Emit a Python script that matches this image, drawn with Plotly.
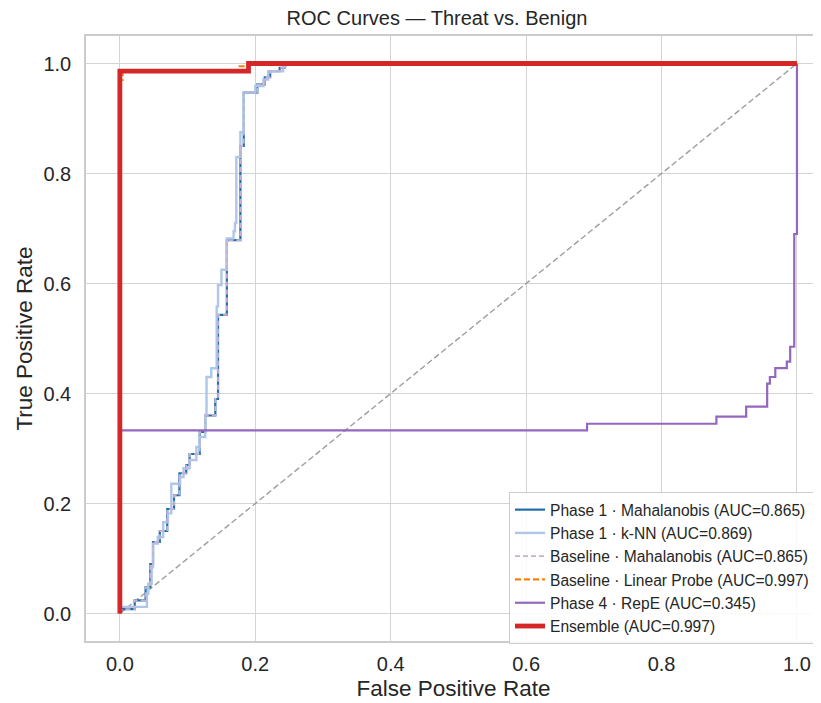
import plotly.graph_objects as go

# ---------------- data ----------------
maha_fpr = [0.0, 0.004, 0.022, 0.022, 0.038, 0.038, 0.045, 0.045, 0.049, 0.049, 0.059, 0.059,
            0.070, 0.070, 0.080, 0.080, 0.088, 0.088, 0.098, 0.098, 0.103, 0.103, 0.118, 0.118,
            0.126, 0.126, 0.141, 0.141, 0.145, 0.145, 0.158, 0.158, 0.178, 0.178, 0.183, 0.183,
            0.203, 0.203, 0.214, 0.214, 0.222, 0.222, 0.236, 0.236, 0.243, 0.243, 1.0]
maha_tpr = [0.0, 0.008, 0.008, 0.024, 0.024, 0.048, 0.048, 0.090, 0.090, 0.130, 0.130, 0.150,
            0.150, 0.190, 0.190, 0.215, 0.215, 0.255, 0.255, 0.270, 0.270, 0.290, 0.290, 0.330,
            0.330, 0.360, 0.360, 0.390, 0.390, 0.543, 0.543, 0.679, 0.679, 0.850, 0.850, 0.947,
            0.947, 0.962, 0.962, 0.975, 0.975, 0.986, 0.986, 0.992, 0.992, 1.0, 1.0]

knn_fpr = [0.0, 0.0, 0.040, 0.040, 0.042, 0.042, 0.047, 0.047, 0.049, 0.049, 0.056, 0.056,
           0.064, 0.064, 0.071, 0.071, 0.076, 0.076, 0.089, 0.089, 0.094, 0.094, 0.103, 0.103,
           0.113, 0.113, 0.118, 0.118, 0.126, 0.126, 0.128, 0.128, 0.135, 0.135, 0.143, 0.143,
           0.145, 0.145, 0.150, 0.150, 0.158, 0.158, 0.168, 0.168, 0.170, 0.170, 0.172, 0.172,
           0.178, 0.178, 0.183, 0.183, 0.200, 0.200, 0.212, 0.212, 0.219, 0.219, 0.241, 0.241,
           0.245, 0.245, 1.0]
knn_tpr = [0.0, 0.012, 0.012, 0.036, 0.036, 0.054, 0.054, 0.084, 0.084, 0.127, 0.127, 0.139,
           0.139, 0.166, 0.166, 0.182, 0.182, 0.236, 0.236, 0.248, 0.248, 0.264, 0.264, 0.279,
           0.279, 0.303, 0.303, 0.321, 0.321, 0.361, 0.361, 0.430, 0.430, 0.446, 0.446, 0.558,
           0.558, 0.597, 0.597, 0.625, 0.625, 0.682, 0.682, 0.695, 0.695, 0.710, 0.710, 0.830,
           0.830, 0.875, 0.875, 0.947, 0.947, 0.959, 0.959, 0.971, 0.971, 0.986, 0.986, 0.995,
           0.995, 1.0, 1.0]

probe_fpr = [0.0, 0.0, 0.004, 0.004, 0.177, 0.177, 0.190, 0.190, 1.0]
probe_tpr = [0.0, 0.970, 0.970, 0.986, 0.986, 0.995, 0.995, 1.0, 1.0]

repe_fpr = [0.0, 0.0, 0.690, 0.690, 0.881, 0.881, 0.925, 0.925, 0.956, 0.956, 0.960, 0.960,
            0.968, 0.968, 0.985, 0.985, 0.990, 0.990, 0.996, 0.996, 1.0, 1.0]
repe_tpr = [0.0, 0.333, 0.333, 0.345, 0.345, 0.358, 0.358, 0.376, 0.376, 0.418, 0.418, 0.430,
            0.430, 0.446, 0.446, 0.458, 0.458, 0.485, 0.485, 0.690, 0.690, 1.0]

ens_fpr = [0.0, 0.0, 0.190, 0.190, 1.0]
ens_tpr = [0.0, 0.986, 0.986, 1.0, 1.0]

chance = [0.0, 1.0]

labels = ["Phase 1 · Mahalanobis (AUC=0.865)",
          "Phase 1 · k-NN (AUC=0.869)",
          "Baseline · Mahalanobis (AUC=0.865)",
          "Baseline · Linear Probe (AUC=0.997)",
          "Phase 4 · RepE (AUC=0.345)",
          "Ensemble (AUC=0.997)"]
tick_vals = [0.0, 0.2, 0.4, 0.6, 0.8, 1.0]
tick_text = ["0.0", "0.2", "0.4", "0.6", "0.8", "1.0"]

FONT = "Liberation Sans, Arial, sans-serif"
TXT = "#262626"

fig = go.Figure()
fig.add_trace(go.Scatter(x=chance, y=chance, mode="lines", showlegend=False,
                         line=dict(color="#9e9e9e", width=1.4, dash="6px,3px"), hoverinfo="skip"))
fig.add_trace(go.Scatter(x=maha_fpr, y=maha_tpr, mode="lines", name=labels[0],
                         line=dict(color="#1f6fa8", width=2.2)))
fig.add_trace(go.Scatter(x=knn_fpr, y=knn_tpr, mode="lines", name=labels[1],
                         line=dict(color="#aec7e8", width=2.4)))
fig.add_trace(go.Scatter(x=maha_fpr, y=maha_tpr, mode="lines", name=labels[2],
                         line=dict(color="#c5b0d5", width=1.8, dash="5px,3px")))
fig.add_trace(go.Scatter(x=probe_fpr, y=probe_tpr, mode="lines", name=labels[3],
                         line=dict(color="#ff7f0e", width=2.2, dash="6px,3px")))
fig.add_trace(go.Scatter(x=repe_fpr, y=repe_tpr, mode="lines", name=labels[4],
                         line=dict(color="#9467bd", width=2.2)))
fig.add_trace(go.Scatter(x=ens_fpr, y=ens_tpr, mode="lines", name=labels[5],
                         line=dict(color="#d62728", width=4.8)))

axis_common = dict(showgrid=True, gridcolor="#d4d4d4", gridwidth=1.4, zeroline=False,
                   showline=True, linecolor="#cccccc", linewidth=1.6,
                   tickfont=dict(family=FONT, size=20, color=TXT),
                   tickvals=tick_vals, ticktext=tick_text, ticks="")

# The page body adds an 8px offset; figure coordinates are the reference's minus 8px.
fig.update_xaxes(range=[-0.05, 1.0355], mirror=True, ticklabelstandoff=4,
                 title=dict(text="False Positive Rate", font=dict(family=FONT, size=22.5, color=TXT),
                            standoff=6), **axis_common)
fig.update_yaxes(range=[-0.05, 1.05], mirror=False, ticklabelstandoff=9,
                 title=dict(text="True Positive Rate", font=dict(family=FONT, size=22.5, color=TXT),
                            standoff=5), **axis_common)

fig.update_layout(
    width=813, height=695,
    margin=dict(l=78, r=0, t=28, b=62),
    paper_bgcolor="white", plot_bgcolor="white",
    title=dict(text="ROC Curves — Threat vs. Benign", x=429 / 813, xanchor="center",
               xref="container", y=1 - 10 / 695, yanchor="middle", yref="container",
               font=dict(family=FONT, size=20, color=TXT)),
    legend=dict(x=0.5755, y=0.2463, xanchor="left", yanchor="top",
                bgcolor="rgba(255,255,255,0.85)", bordercolor="#cccccc", borderwidth=1,
                font=dict(family=FONT, size=15.6, color=TXT),
                traceorder="normal", itemwidth=30),
    showlegend=True,
)

fig.write_html("out.html")
